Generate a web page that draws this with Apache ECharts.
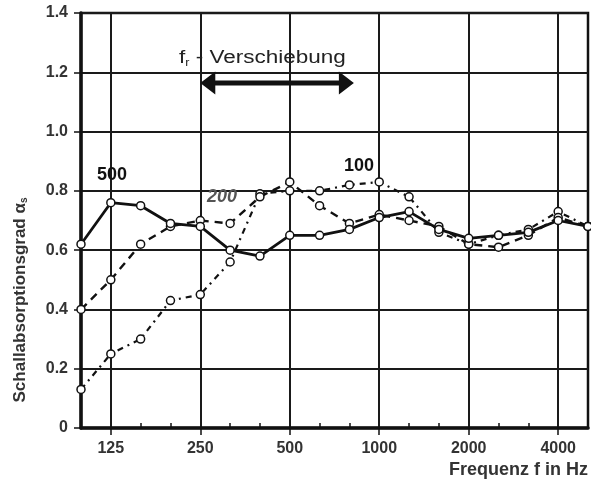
<!DOCTYPE html>
<html>
<head>
<meta charset="utf-8">
<script src="https://cdn.jsdelivr.net/npm/echarts@6/dist/echarts.min.js"></script>
<style>html,body{margin:0;padding:0;background:#fff}#c{width:591px;height:488px}</style>
</head>
<body>
<div id="c"></div>
<script>
var freqs = ['100','125','160','200','250','315','400','500','630','800','1000','1250','1600','2000','2500','3150','4000','5000'];
var s500 = [0.62,0.76,0.75,0.69,0.68,0.60,0.58,0.65,0.65,0.67,0.71,0.73,0.67,0.64,0.65,0.66,0.70,0.68];
var s200 = [0.40,0.50,0.62,0.68,0.70,0.69,0.78,0.83,0.75,0.69,0.72,0.70,0.68,0.62,0.61,0.65,0.71,0.68];
var s100 = [0.13,0.25,0.30,0.43,0.45,0.56,0.79,0.80,0.80,0.82,0.83,0.78,0.66,0.62,0.65,0.67,0.73,0.68];
var yTicks = [0, 0.2, 0.4, 0.6, 0.8, 1.0, 1.2, 1.4];
var seriesNames = ['500', '200', '100'];

var G = {left: 81, right: 3, top: 13, bottom: 60};
var W = 591, H = 488;
var gw = W - G.left - G.right, gh = H - G.top - G.bottom;
function gx(i){ return G.left + i * gw / (freqs.length - 1); }
function gy(v){ return G.top + gh - v / 1.4 * gh; }

var major = function(i){ return i % 3 === 1; };
var minor = function(i){ return i % 3 !== 1 && i !== 0 && i !== freqs.length - 1; };
var FONT = 'Liberation Sans, Arial, sans-serif';

var sym = {color: '#fff', borderColor: '#111', borderWidth: 1.5};
function mk(name, data, lineType, width){
  return {
    name: name, type: 'line', data: data, xAxisIndex: 0,
    symbol: 'circle', symbolSize: 8, showSymbol: true,
    itemStyle: sym,
    lineStyle: {color: '#111', width: width, type: lineType},
    z: name === '500' ? 5 : 4,
    animation: false
  };
}

var chart = echarts.init(document.getElementById('c'), null, {renderer: 'canvas'});
var option = {
  backgroundColor: '#fff',
  animation: false,
  grid: {left: G.left, right: G.right, top: G.top, bottom: G.bottom, show: true, borderColor: '#111', borderWidth: 2.5, backgroundColor: 'transparent'},
  xAxis: [{
    type: 'category', data: freqs, boundaryGap: false, position: 'bottom',
    axisLine: {lineStyle: {color: '#111', width: 3.5}},
    axisTick: {interval: major, length: 7, lineStyle: {color: '#111', width: 1.5}},
    axisLabel: {interval: major, margin: 13, color: '#333', fontSize: 16, fontWeight: 'bold', fontFamily: FONT},
    splitLine: {show: true, interval: major, lineStyle: {color: '#1a1a1a', width: 2}}
  }, {
    type: 'category', data: freqs, boundaryGap: false, position: 'bottom',
    axisLine: {show: false},
    axisTick: {show: true, inside: true, interval: minor, length: 5, lineStyle: {color: '#111', width: 1.5}},
    axisLabel: {show: false},
    splitLine: {show: false}
  }],
  yAxis: {
    type: 'value', min: 0, max: 1.4, interval: 0.2,
    axisLine: {show: true, lineStyle: {color: '#111', width: 3.5}},
    axisTick: {show: true, length: 7, lineStyle: {color: '#111', width: 1.5}},
    axisLabel: {margin: 13, color: '#333', fontSize: 16, fontWeight: 'bold', fontFamily: FONT,
      formatter: function(v){ return v === 0 ? '0' : v.toFixed(1); }},
    splitLine: {show: true, lineStyle: {color: '#1a1a1a', width: 2}}
  },
  series: [
    mk(seriesNames[2], s100, [6, 5, 2, 5], 2.2),
    mk(seriesNames[1], s200, [8, 6], 2.4),
    mk(seriesNames[0], s500, 'solid', 2.8)
  ],
  graphic: [
    {type: 'polygon', z: 100, shape: {points: [
      [gx(4), 83], [gx(4)+15, 71.5], [gx(4)+15, 80.5], [gx(9.15)-15, 80.5], [gx(9.15)-15, 71.5],
      [gx(9.15), 83], [gx(9.15)-15, 94.5], [gx(9.15)-15, 85.5], [gx(4)+15, 85.5], [gx(4)+15, 94.5]]},
      style: {fill: '#111'}},
    {type: 'text', z: 100, x: 179, y: 58, scaleX: 1.25, style: {
      text: '{f|f}{r|r}{t| - Verschiebung}', fill: '#222',
      verticalAlign: 'middle',
      rich: {f: {fontSize: 18, fontFamily: FONT, fill: '#222'}, r: {fontSize: 10, fontFamily: FONT, padding: [10,0,0,0], fill: '#222'}, t: {fontSize: 18, fontFamily: FONT, fill: '#222'}}}},
    {type: 'text', z: 100, x: 112, y: 175, style: {text: seriesNames[0], fill: '#111', font: 'bold 18px ' + FONT, align: 'center', verticalAlign: 'middle'}},
    {type: 'text', z: 100, x: 222, y: 197, style: {text: seriesNames[1], fill: '#555', font: 'bold italic 18px ' + FONT, align: 'center', verticalAlign: 'middle'}},
    {type: 'text', z: 100, x: 359, y: 166, style: {text: seriesNames[2], fill: '#111', font: 'bold 18px ' + FONT, align: 'center', verticalAlign: 'middle'}},
    {type: 'text', z: 100, x: 588, y: 470, style: {text: 'Frequenz f in Hz', fill: '#333', font: 'bold 18px ' + FONT, align: 'right', verticalAlign: 'middle'}},
    {type: 'text', z: 100, x: 20, y: 300, rotation: Math.PI / 2, style: {
      text: '{a|Schallabsorptionsgrad α}{s|s}', fill: '#333', align: 'center', verticalAlign: 'middle',
      rich: {a: {fontSize: 17, fontWeight: 'bold', fontFamily: FONT, fill: '#333'}, s: {fontSize: 10, fontWeight: 'bold', fontFamily: FONT, fill: '#333', padding: [9,0,0,0]}}}}
  ]
};
chart.setOption(option);
</script>
</body>
</html>
